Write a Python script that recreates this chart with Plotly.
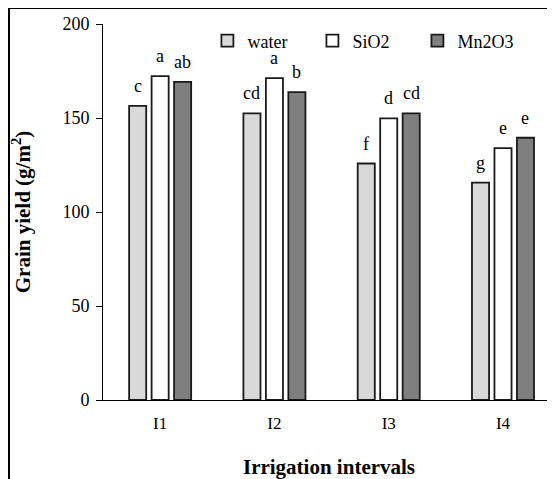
import plotly.graph_objects as go

categories = ["I1", "I2", "I3", "I4"]
water = [156.5, 152.5, 125.8, 115.6]
sio2 = [172.3, 171.2, 149.8, 134.0]
mn2o3 = [169.2, 163.8, 152.5, 139.5]
water_letters = ["c", "cd", "f", "g"]
sio2_letters = ["a", "a", "d", "e"]
mn2o3_letters = ["ab", "b", "cd", "e"]

font_family = "Liberation Serif"
BARGAP = 0.41

series = [
    ("water", water, water_letters, "#d9d9d9"),
    ("SiO2", sio2, sio2_letters, "#ffffff"),
    ("Mn2O3", mn2o3, mn2o3_letters, "#7f7f7f"),
]

fig = go.Figure()
for name, vals, letters, color in series:
    fig.add_trace(go.Bar(
        x=categories, y=vals, name=name,
        marker=dict(color=color, line=dict(color="#1a1a1a", width=1.8)),
    ))

# significance letters above each bar, placed via data coordinates
slot = (1 - BARGAP) / len(series)
for k, (name, vals, letters, color) in enumerate(series):
    for i, (v, lab) in enumerate(zip(vals, letters)):
        fig.add_annotation(
            x=i - (1 - BARGAP) / 2 + (k + 0.5) * slot, y=v, xref="x", yref="y",
            text=lab, showarrow=False, yanchor="bottom", yshift=8,
            font=dict(family=font_family, size=18, color="#000000"),
        )

fig.update_layout(
    width=547, height=471,
    margin=dict(l=95, r=0, t=16, b=79),
    paper_bgcolor="white", plot_bgcolor="white",
    barmode="group", bargap=BARGAP, bargroupgap=0.24,
    font=dict(family=font_family, size=16, color="#000000"),
    showlegend=True,
    legend=dict(orientation="h", x=0.231, xanchor="left", y=0.955, yanchor="middle",
                font=dict(family=font_family, size=18, color="#000000"), entrywidth=60,
                bgcolor="rgba(0,0,0,0)"),
    xaxis=dict(range=[-0.5, 3.455], showline=True, linecolor="#000000", linewidth=1,
               ticks="", tickfont=dict(family=font_family, size=17), ticklabelstandoff=8,
               title=dict(text="<b>Irrigation intervals</b>", font=dict(family=font_family, size=21), standoff=32),
               showgrid=False, zeroline=False),
    yaxis=dict(range=[0, 200], tickvals=[0, 50, 100, 150, 200], showline=True, linecolor="#000000",
               linewidth=1, ticks="outside", ticklen=6, tickcolor="#000000",
               tickfont=dict(family=font_family, size=18), ticklabelstandoff=3,
               title=dict(text="<b>Grain yield (g/m<sup>2</sup>)</b>", font=dict(family=font_family, size=21), standoff=26),
               showgrid=False, zeroline=False),
)

fig.add_shape(type="rect", xref="paper", yref="paper",
              x0=-0.208, x1=1.1, y0=-0.3, y1=1.0426,
              line=dict(color="#000000", width=2), fillcolor="rgba(0,0,0,0)", layer="above")

fig.write_html("out.html")
